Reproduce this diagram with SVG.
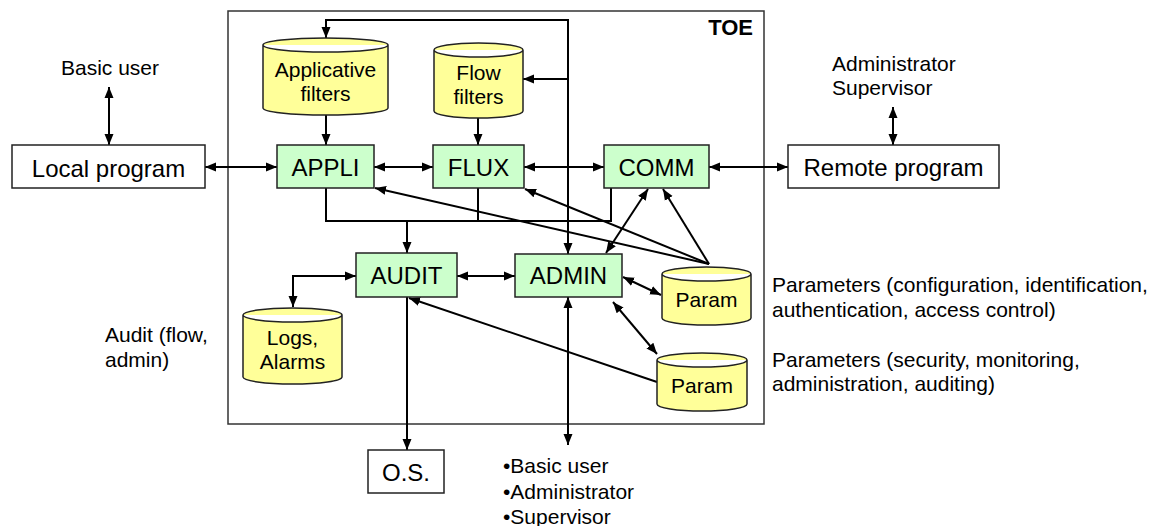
<svg xmlns="http://www.w3.org/2000/svg" width="1154" height="526" viewBox="0 0 1154 526">
<style>
text{font-family:"Liberation Sans",Arial,sans-serif;fill:#000}
.box{fill:#CCFFCC;stroke:#222;stroke-width:1.5}
.wbox{fill:#fff;stroke:#222;stroke-width:1.5}
.cyl{fill:#FFFF99;stroke:#222;stroke-width:1.5}
.big{font-size:24px;text-anchor:middle}
.mid{font-size:21px;text-anchor:middle}
.sm{font-size:21px}
.c line,.c path,.c polyline{stroke:#000;stroke-width:2;fill:none}
.bi{marker-start:url(#ah);marker-end:url(#ah)}
.one{marker-end:url(#ah)}
</style>
<defs>
<marker id="ah" markerUnits="userSpaceOnUse" markerWidth="12" markerHeight="10" refX="11" refY="5" orient="auto-start-reverse" viewBox="0 0 12 10">
<path d="M0,0.5 L11,5 L0,9.5 Z" fill="#000"/>
</marker>
</defs>
<rect width="1154" height="526" fill="#fff"/>

<g id="toe">
<rect x="228" y="11" width="536" height="413" fill="none" stroke="#333" stroke-width="1.5"/>
<text x="753" y="35" style="font-size:22px;font-weight:bold;text-anchor:end">TOE</text>
</g>

<g class="c" id="connectors">
<line class="bi" x1="109" y1="87" x2="109" y2="145"/>
<line class="bi" x1="205" y1="167" x2="277" y2="167"/>
<line class="bi" x1="374" y1="167" x2="433" y2="167"/>
<line class="bi" x1="524" y1="167" x2="604" y2="167"/>
<line class="bi" x1="709" y1="167" x2="788" y2="167"/>
<line class="bi" x1="893" y1="107" x2="893" y2="145"/>
<line class="one" x1="326" y1="115" x2="326" y2="145"/>
<line class="one" x1="478" y1="118" x2="478" y2="145"/>
<polyline class="bi" points="326,38 326,20 568,20 568,254"/>
<line class="one" x1="568" y1="79" x2="523" y2="79"/>
<polyline points="326,188 326,221 611,221 611,188"/>
<line x1="478" y1="188" x2="478" y2="221"/>
<line class="one" x1="407" y1="221" x2="407" y2="253"/>
<line class="bi" x1="457" y1="276" x2="515" y2="276"/>
<polyline class="bi" points="356,276 293,276 293,307"/>
<line class="one" x1="407" y1="297" x2="407" y2="450"/>
<line class="bi" x1="568" y1="297" x2="568" y2="445"/>
<line class="one" x1="657" y1="382" x2="409" y2="298"/>
<line class="bi" x1="623" y1="277" x2="661" y2="295"/>
<line class="bi" x1="613" y1="302" x2="657" y2="354"/>
<line class="one" x1="709" y1="264" x2="375" y2="188"/>
<line class="one" x1="709" y1="264" x2="525" y2="189"/>
<line class="one" x1="709" y1="264" x2="663" y2="189"/>
<line class="bi" x1="648" y1="189" x2="606" y2="253"/>
</g>

<g id="basic-user-label"><text class="sm" x="61" y="75">Basic user</text></g>
<g id="admin-sup-label"><text class="sm" x="832" y="71">Administrator</text><text class="sm" x="832" y="95">Supervisor</text></g>

<g id="local-program">
<rect class="wbox" x="12" y="145" width="193" height="43"/>
<text class="big" x="108.5" y="177">Local program</text>
</g>
<g id="remote-program">
<rect class="wbox" x="788" y="145" width="211" height="43"/>
<text class="big" x="893.5" y="176">Remote program</text>
</g>

<g id="applicative-filters">
<path class="cyl" d="M263,45 A62.5,7 0 0 1 388,45 L388,108 A62.5,7 0 0 1 263,108 Z M263,45 A62.5,7 0 0 0 388,45"/>
<text class="mid" x="325.5" y="77">Applicative</text>
<text class="mid" x="325.5" y="101">filters</text>
</g>
<g id="flow-filters">
<path class="cyl" d="M434,50 A44.5,7 0 0 1 523,50 L523,111 A44.5,7 0 0 1 434,111 Z M434,50 A44.5,7 0 0 0 523,50"/>
<text class="mid" x="478.5" y="80">Flow</text>
<text class="mid" x="478.5" y="104">filters</text>
</g>

<g id="appli"><rect class="box" x="277" y="145" width="97" height="43"/><text class="big" x="325.5" y="176">APPLI</text></g>
<g id="flux"><rect class="box" x="433" y="145" width="91" height="43"/><text class="big" x="478.5" y="176">FLUX</text></g>
<g id="comm"><rect class="box" x="604" y="145" width="105" height="43"/><text class="big" x="656.5" y="176">COMM</text></g>
<g id="audit"><rect class="box" x="356" y="253" width="101" height="44"/><text class="big" x="406.5" y="284">AUDIT</text></g>
<g id="admin"><rect class="box" x="515" y="254" width="107" height="43"/><text class="big" x="568.5" y="284">ADMIN</text></g>

<g id="logs-alarms">
<path class="cyl" d="M243,315 A49.5,7 0 0 1 342,315 L342,377 A49.5,7 0 0 1 243,377 Z M243,315 A49.5,7 0 0 0 342,315"/>
<text class="mid" x="292.5" y="345">Logs,</text>
<text class="mid" x="292.5" y="369">Alarms</text>
</g>
<g id="param1">
<path class="cyl" d="M662,274 A44.5,7 0 0 1 751,274 L751,318 A44.5,7 0 0 1 662,318 Z M662,274 A44.5,7 0 0 0 751,274"/>
<text class="mid" x="706.5" y="307">Param</text>
</g>
<g id="param2">
<path class="cyl" d="M657,360 A45,7 0 0 1 747,360 L747,404 A45,7 0 0 1 657,404 Z M657,360 A45,7 0 0 0 747,360"/>
<text class="mid" x="702" y="393">Param</text>
</g>

<g id="os"><rect class="wbox" x="368" y="450" width="76" height="43"/><text class="big" x="406" y="481">O.S.</text></g>

<g id="audit-label"><text class="sm" x="105" y="342">Audit (flow,</text><text class="sm" x="105" y="367">admin)</text></g>
<g id="param1-label"><text class="sm" x="772" y="292">Parameters (configuration, identification,</text><text class="sm" x="772" y="317">authentication, access control)</text></g>
<g id="param2-label"><text class="sm" x="772" y="367">Parameters (security, monitoring,</text><text class="sm" x="772" y="391">administration, auditing)</text></g>
<g id="users-label"><text class="sm" x="503" y="473">•Basic user</text><text class="sm" x="503" y="499">•Administrator</text><text class="sm" x="503" y="524">•Supervisor</text></g>
</svg>
